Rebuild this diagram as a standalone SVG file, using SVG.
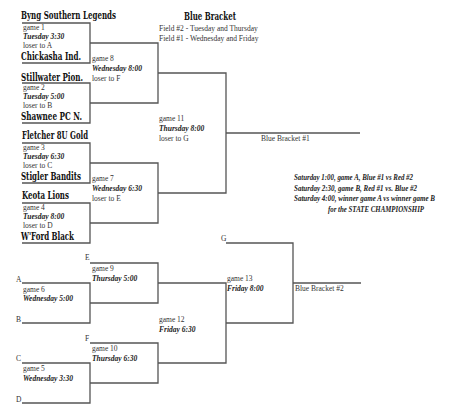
<svg xmlns="http://www.w3.org/2000/svg" width="449" height="420" viewBox="0 0 449 420">
<style>
.ln{fill:none;stroke:#555;stroke-width:1.3}
.t{font-family:"Liberation Serif",serif;font-size:7.5px;fill:#333}
.b{font-family:"Liberation Serif",serif;font-size:7.5px;font-weight:bold;font-style:italic;fill:#222}
.s{font-family:"Liberation Serif",serif;font-size:7.6px;font-weight:bold;font-style:italic;fill:#222}
.team{font-family:"DejaVu Serif Condensed","DejaVu Serif",serif;font-weight:bold;font-size:10.5px;fill:#111}
</style>
<rect width="449" height="420" fill="#fff"/>
<g id="connectors" class="ln">
<path d="M22 23H90V63H22"/>
<path d="M22 83H90V123H22"/>
<path d="M22 143H90V183H22"/>
<path d="M22 203H90V243H22"/>
<path d="M90 43H158V103H90"/>
<path d="M90 163H158V223H90"/>
<path d="M158 73H226V193H158"/>
<path d="M226 133H360"/>
<path d="M22 283H90V323H22"/>
<path d="M22 363H90V403H22"/>
<path d="M90 263H158V303H90"/>
<path d="M90 343H158V383H90"/>
<path d="M158 283H226V363H158"/>
<path d="M226 243H293V323H226"/>
<path d="M293 283H361"/>
</g>
<g id="title">
<text transform="translate(210,20) scale(0.7,1)" text-anchor="middle" class="team" textLength="74.3" lengthAdjust="spacingAndGlyphs">Blue Bracket</text>
<text x="159" y="31" class="t">Field #2 - Tuesday and Thursday</text>
<text x="159" y="41" class="t">Field #1 - Wednesday and Friday</text>
</g>
<g id="teams">
<text transform="translate(21,19) scale(0.7,1)" class="team" textLength="135.7" lengthAdjust="spacingAndGlyphs">Byng Southern Legends</text>
<text transform="translate(21,60) scale(0.7,1)" class="team" textLength="85.7" lengthAdjust="spacingAndGlyphs">Chickasha Ind.</text>
<text transform="translate(21,81) scale(0.7,1)" class="team" textLength="88.6" lengthAdjust="spacingAndGlyphs">Stillwater Pion.</text>
<text transform="translate(21,120) scale(0.7,1)" class="team" textLength="87.1" lengthAdjust="spacingAndGlyphs">Shawnee PC N.</text>
<text transform="translate(22,139) scale(0.7,1)" class="team" textLength="94.3" lengthAdjust="spacingAndGlyphs">Fletcher 8U Gold</text>
<text transform="translate(21,180) scale(0.7,1)" class="team" textLength="85.7" lengthAdjust="spacingAndGlyphs">Stigler Bandits</text>
<text transform="translate(22,199) scale(0.7,1)" class="team" textLength="67.1" lengthAdjust="spacingAndGlyphs">Keota Lions</text>
<text transform="translate(21,240) scale(0.7,1)" class="team" textLength="75.7" lengthAdjust="spacingAndGlyphs">W'Ford Black</text>
</g>
<g id="game1"><text x="23" y="30" class="t">game 1</text><text x="23" y="39" class="b">Tuesday 3:30</text><text x="23" y="48" class="t">loser to A</text></g>
<g id="game2"><text x="23" y="90" class="t">game 2</text><text x="23" y="99" class="b">Tuesday 5:00</text><text x="23" y="108" class="t">loser to B</text></g>
<g id="game3"><text x="23" y="150" class="t">game 3</text><text x="23" y="159" class="b">Tuesday 6:30</text><text x="23" y="168" class="t">loser to C</text></g>
<g id="game4"><text x="23" y="210" class="t">game 4</text><text x="23" y="219" class="b">Tuesday 8:00</text><text x="23" y="228" class="t">loser to D</text></g>
<g id="game8"><text x="92" y="61" class="t">game 8</text><text x="92" y="71" class="b">Wednesday 8:00</text><text x="92" y="81" class="t">loser to F</text></g>
<g id="game7"><text x="92" y="181" class="t">game 7</text><text x="92" y="191" class="b">Wednesday 6:30</text><text x="92" y="201" class="t">loser to E</text></g>
<g id="game11"><text x="159" y="121" class="t">game 11</text><text x="159" y="131" class="b">Thursday 8:00</text><text x="159" y="141" class="t">loser to G</text></g>
<g id="bb1"><text x="261" y="141" class="t">Blue Bracket #1</text></g>
<g id="saturday">
<text x="294" y="180" class="s" textLength="119" lengthAdjust="spacingAndGlyphs">Saturday 1:00, game A, Blue #1 vs Red #2</text>
<text x="294" y="191" class="s" textLength="123" lengthAdjust="spacingAndGlyphs">Saturday 2:30, game B, Red #1 vs. Blue #2</text>
<text x="294" y="201" class="s" textLength="141" lengthAdjust="spacingAndGlyphs">Saturday 4:00, winner game A vs winner game B</text>
<text x="328" y="212" class="s" textLength="96" lengthAdjust="spacingAndGlyphs">for the STATE CHAMPIONSHIP</text>
</g>
<g id="labels">
<text x="221" y="241" class="t">G</text>
<text x="85" y="260" class="t">E</text>
<text x="85" y="341" class="t">F</text>
<text x="16" y="282" class="t">A</text>
<text x="16" y="322" class="t">B</text>
<text x="16" y="361" class="t">C</text>
<text x="16" y="402" class="t">D</text>
</g>
<g id="game6"><text x="23" y="292" class="t">game 6</text><text x="23" y="301" class="b">Wednesday 5:00</text></g>
<g id="game5"><text x="23" y="371" class="t">game 5</text><text x="23" y="381" class="b">Wednesday 3:30</text></g>
<g id="game9"><text x="92" y="271" class="t">game 9</text><text x="92" y="281" class="b">Thursday 5:00</text></g>
<g id="game10"><text x="92" y="351" class="t">game 10</text><text x="92" y="361" class="b">Thursday 6:30</text></g>
<g id="game12"><text x="159" y="322" class="t">game 12</text><text x="159" y="332" class="b">Friday 6:30</text></g>
<g id="game13"><text x="227" y="281" class="t">game 13</text><text x="227" y="291" class="b">Friday 8:00</text></g>
<g id="bb2"><text x="295" y="291" class="t">Blue Bracket #2</text></g>
</svg>
